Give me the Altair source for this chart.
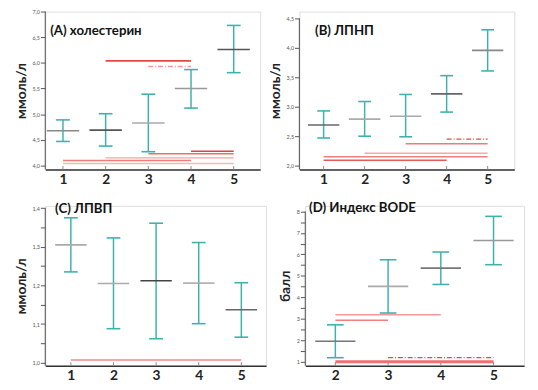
import altair as alt
import pandas as pd

# ---------------- data ----------------
groups = [1, 2, 3, 4, 5]
groups_D = [2, 3, 4, 5]

chol_mean = [4.68, 4.69, 4.83, 5.50, 6.26]
chol_lo = [4.47, 4.38, 4.27, 5.12, 5.81]
chol_hi = [4.89, 5.01, 5.39, 5.87, 6.73]
chol_from = [2, 3, 4, 3, 2, 1, 1]
chol_to = [4, 4, 5, 5, 5, 4, 5]
chol_level = [6.04, 5.93, 4.28, 4.23, 4.15, 4.10, 4.04]

ldl_mean = [2.69, 2.79, 2.84, 3.22, 3.96]
ldl_lo = [2.47, 2.50, 2.49, 2.91, 3.61]
ldl_hi = [2.93, 3.09, 3.21, 3.53, 4.31]
ldl_from = [4, 3, 2, 1, 1]
ldl_to = [5, 5, 5, 5, 4]
ldl_level = [2.45, 2.37, 2.21, 2.15, 2.09]

hdl_mean = [1.305, 1.205, 1.212, 1.206, 1.137]
hdl_lo = [1.235, 1.088, 1.062, 1.101, 1.066]
hdl_hi = [1.375, 1.323, 1.361, 1.311, 1.207]
hdl_from = [1]
hdl_to = [5]
hdl_level = [1.007]

bode_mean = [1.96, 4.51, 5.36, 6.65]
bode_lo = [1.19, 3.27, 4.60, 5.52]
bode_hi = [2.72, 5.75, 6.11, 7.77]
bode_from = [2, 2, 3, 2]
bode_to = [4, 3, 5, 5]
bode_level = [3.19, 2.93, 1.19, 1.00]

# ---------------- styles ----------------
TEAL = "#3fb1ac"
FONT = "Lato"


def panel(title, ytitle, cats, mean, lo, hi, cfrom, cto, clevel, *,
          xdom, ydom, ytop, yticks, label_expr, width, height,
          mean_len, cap_len, grays, reds, dashes, red_widths, title_xy):
    keys = [str(i) for i in range(len(cats))]
    df = pd.DataFrame({"g": cats, "mean": mean, "lo": lo, "hi": hi, "k": keys})
    ckeys = [str(i) for i in range(len(cfrom))]
    cmp = pd.DataFrame({"x1": cfrom, "x2": cto, "y": clevel, "k": ckeys,
                        "dash": dashes, "w": red_widths})

    xs = alt.Scale(domain=xdom, nice=False, zero=False)
    ys = alt.Scale(domain=ydom, nice=False, zero=False)

    xaxis = alt.Axis(values=cats, format="d", ticks=False, grid=False,
                     domainColor="#333333", domainWidth=1.5,
                     labelFont=FONT, labelFontSize=14, labelFontWeight="bold",
                     labelColor="#222222", labelPadding=3, title=None)
    yaxis = alt.Axis(values=yticks, labelExpr=label_expr, grid=False, domain=False,
                     labelOverlap=False, labelBound=False,
                     tickColor="#555555", tickSize=5, tickWidth=1,
                     labelFont=FONT, labelFontSize=5.5, labelColor="#555555",
                     labelPadding=1, title=ytitle, titleFont=FONT, titleFontSize=14,
                     titleFontWeight="bold", titleColor="#222222", titlePadding=4)

    def X(f):
        return alt.X(f, scale=xs, axis=xaxis, title=None)

    def Y(f):
        return alt.Y(f, scale=ys, axis=yaxis, title=ytitle)

    base = alt.Chart(df)

    yline = alt.Chart(pd.DataFrame({"a": [ydom[0]], "b": [ytop]})).mark_rule(
        color="#666666", strokeWidth=1.2).encode(
        x=alt.value(0), y=Y("a:Q"), y2="b:Q")

    xticks = alt.Chart(pd.DataFrame({"g": cats, "a": [ydom[0]] * len(cats),
                                     "b": [ydom[0] + (ydom[1] - ydom[0]) * 0.022] * len(cats)})
                       ).mark_rule(color="#888888", strokeWidth=1).encode(
        x=X("g:Q"), y=Y("a:Q"), y2="b:Q")

    reds_layer = alt.Chart(cmp).mark_rule().encode(
        x=X("x1:Q"), x2="x2:Q", y=Y("y:Q"),
        color=alt.Color("k:N", scale=alt.Scale(domain=ckeys, range=reds), legend=None),
        strokeDash=alt.StrokeDash("dash:N", scale=alt.Scale(domain=["s", "d"],
                                  range=[[1, 0], [5, 2, 1, 2]]), legend=None),
        strokeWidth=alt.StrokeWidth("w:Q", scale=None))

    bar = base.mark_rule(color=TEAL, strokeWidth=1.5).encode(
        x=X("g:Q"), y=Y("lo:Q"), y2="hi:Q")
    cap_lo = base.mark_tick(orient="horizontal", size=cap_len, thickness=1.6,
                            color=TEAL, opacity=1).encode(x=X("g:Q"), y=Y("lo:Q"))
    cap_hi = base.mark_tick(orient="horizontal", size=cap_len, thickness=1.6,
                            color=TEAL, opacity=1).encode(x=X("g:Q"), y=Y("hi:Q"))
    mean_l = base.mark_tick(orient="horizontal", size=mean_len, thickness=1.6,
                            opacity=1).encode(
        x=X("g:Q"), y=Y("mean:Q"),
        color=alt.Color("k:N", scale=alt.Scale(domain=keys, range=grays), legend=None))

    ttl = alt.Chart(pd.DataFrame({"x": [title_xy[0]], "y": [title_xy[1]], "t": [title]})
                    ).mark_text(align="left", baseline="middle", font=FONT,
                                fontSize=13.5, fontWeight="bold", color="#111111").encode(
        x=X("x:Q"), y=Y("y:Q"), text="t:N")

    return alt.layer(yline, xticks, reds_layer, bar, cap_lo, cap_hi, mean_l, ttl).resolve_scale(
        color="independent").properties(width=width, height=height)


lab1 = "replace(format(datum.value, '.1f'), '.', ',')"
labC = "abs(datum.value*10 - round(datum.value*10)) < 0.001 ? replace(format(datum.value, '.1f'), '.', ',') : ''"
labD = "datum.value % 1 == 0 ? format(datum.value, 'd') : ''"

A = panel("(A) холестерин", "ммоль/л", groups, chol_mean, chol_lo, chol_hi,
          chol_from, chol_to, chol_level,
          xdom=[0.586, 5.62], ydom=[3.923, 7.0], ytop=7.0,
          yticks=[4.0, 4.5, 5.0, 5.5, 6.0, 6.5, 7.0], label_expr=lab1,
          width=219, height=161, mean_len=33, cap_len=14,
          grays=["#888888", "#555555", "#aaaaaa", "#999999", "#555555"],
          reds=["#e8474a", "#f29a9a", "#e53e3e", "#ee6c6c", "#f4a3a3", "#ef7b7b", "#f7b8b8"],
          dashes=["s", "d", "s", "s", "s", "s", "s"],
          red_widths=[1.6, 1.3, 1.5, 1.5, 1.5, 1.6, 1.6],
          title_xy=[0.70, 6.62])

B = panel("(B) ЛПНП", "ммоль/л", groups, ldl_mean, ldl_lo, ldl_hi,
          ldl_from, ldl_to, ldl_level,
          xdom=[0.41, 5.65], ydom=[1.933, 4.62], ytop=4.5,
          yticks=[2.0, 2.5, 3.0, 3.5, 4.0, 4.5], label_expr=lab1,
          width=219, height=161, mean_len=32, cap_len=13,
          grays=["#666666", "#aaaaaa", "#aaaaaa", "#666666", "#888888"],
          reds=["#e8474a", "#f07a7a", "#f6a8a8", "#f08080", "#e85a5a"],
          dashes=["d", "s", "s", "s", "s"],
          red_widths=[1.3, 1.5, 1.5, 1.5, 1.6],
          title_xy=[0.79, 4.29])

C = panel("(C) ЛПВП", "ммоль/л", groups, hdl_mean, hdl_lo, hdl_hi,
          hdl_from, hdl_to, hdl_level,
          xdom=[0.40, 5.58], ydom=[0.992, 1.406], ytop=1.4,
          yticks=[1.0, 1.05, 1.1, 1.15, 1.2, 1.25, 1.3, 1.35, 1.4], label_expr=labC,
          width=225, height=163, mean_len=32, cap_len=14,
          grays=["#aaaaaa", "#aaaaaa", "#444444", "#aaaaaa", "#666666"],
          reds=["#f08a8a"], dashes=["s"], red_widths=[1.5],
          title_xy=[0.63, 1.398])

D = panel("(D) Индекс BODE", "балл", groups_D, bode_mean, bode_lo, bode_hi,
          bode_from, bode_to, bode_level,
          xdom=[1.43, 5.58], ydom=[0.814, 8.26], ytop=8.0,
          yticks=[1, 1.5, 2, 2.5, 3, 3.5, 4, 4.5, 5, 5.5, 6, 6.5, 7, 7.5, 8], label_expr=labD,
          width=223, height=163, mean_len=41, cap_len=17,
          grays=["#777777", "#aaaaaa", "#777777", "#999999"],
          reds=["#f49a9a", "#f08080", "#e8474a", "#ef7070"],
          dashes=["s", "s", "d", "s"], red_widths=[1.5, 1.6, 1.3, 3],
          title_xy=[1.50, 8.14])

chart = alt.vconcat(
    alt.hconcat(A, B, spacing=6),
    alt.hconcat(C, D, spacing=11),
    spacing=14,
).configure_view(stroke=None).configure(
    padding={"left": 5, "top": -3, "right": 5, "bottom": 0},
    background="white",
)

chart.save("out.html", embed_options={"renderer": "svg", "actions": False})
